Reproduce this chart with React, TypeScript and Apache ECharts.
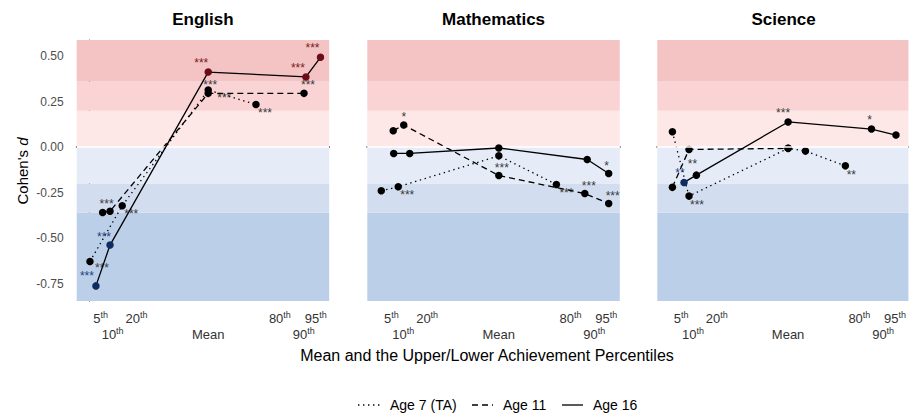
import React, { useEffect, useRef } from 'react';
import * as echarts from 'echarts';

const FONT = '"Liberation Sans", Arial, Helvetica, sans-serif';

// ---------- data ----------
const subjects = ['English', 'Mathematics', 'Science'];
const ageGroups = ['Age 7 (TA)', 'Age 11', 'Age 16'];
const tickPercentiles = [5, 10, 20, 50, 80, 90, 95];
const tickLabels = ['5th', '10th', '20th', 'Mean', '80th', '90th', '95th'];
const upperRowTicks = [5, 20, 80, 95];
const lowerRowTicks = [10, 50, 90];
const yTickValues = [-0.75, -0.5, -0.25, 0, 0.25, 0.5];
const bandEdges = [-0.845, -0.36, -0.2, 0, 0.2, 0.36, 0.588];

// English
const engAge7X = [0.5, 14.0, 50, 70.0];
const engAge7Y = [-0.628, -0.322, 0.313, 0.234];
const engAge7Sig = ['***', '***', '***', '***'];
const engAge11X = [5.8, 8.9, 50, 90.1];
const engAge11Y = [-0.359, -0.352, 0.295, 0.295];
const engAge11Sig = ['***', '', '***', '***'];
const engAge16X = [3.0, 8.9, 50, 90.9, 97.0];
const engAge16Y = [-0.762, -0.538, 0.412, 0.385, 0.493];
const engAge16Sig = ['***', '***', '***', '***', '***'];
const engAge16Tone = ['neg', 'neg', 'pos', 'pos', 'pos'];

// Mathematics
const mathAge7X = [0.8, 7.9, 50, 74.1];
const mathAge7Y = [-0.24, -0.218, -0.048, -0.205];
const mathAge7Sig = ['', '***', '***', '***'];
const mathAge11X = [5.8, 10.2, 50, 86.0, 96.0];
const mathAge11Y = [0.09, 0.121, -0.156, -0.255, -0.31];
const mathAge11Sig = ['', '*', '', '***', '***'];
const mathAge16X = [6.0, 12.7, 50, 87.0, 96.0];
const mathAge16Y = [-0.035, -0.035, -0.005, -0.068, -0.145];
const mathAge16Sig = ['', '', '', '', '*'];

// Science
const sciAge7X = [1.3, 8.3, 50, 57.3, 74.1];
const sciAge7Y = [0.084, -0.269, -0.007, -0.022, -0.103];
const sciAge7Sig = ['', '***', '', '', '**'];
const sciAge11X = [1.3, 8.3, 50];
const sciAge11Y = [-0.221, -0.013, -0.007];
const sciAge11Sig = ['', '', ''];
const sciAge16X = [6.2, 11.4, 50, 85.1, 95.4];
const sciAge16Y = [-0.194, -0.154, 0.138, 0.099, 0.066];
const sciAge16Sig = ['**', '**', '***', '*', ''];
const sciAge16Tone = ['neg', '', '', '', ''];

// ---------- styling (label offsets in px) ----------
const engAge7Off = [[12, 7], [9, 8], [16, 8], [9, 9]];
const engAge11Off = [[4, -8], [0, 0], [2, -8], [4, -8]];
const engAge16Off = [[-9, -10], [-6, -8], [-7, -9], [-8, -9], [-8, -9]];
const mathAge7Off = [[0, 0], [9, 8], [3, 12], [10, 9]];
const mathAge11Off = [[0, 0], [0, -8], [0, 0], [4, -8], [4, -8]];
const mathAge16Off = [[0, 0], [0, 0], [0, 0], [0, 0], [-2, -8]];
const sciAge7Off = [[0, 0], [8, 9], [0, 0], [0, 0], [6, 9]];
const sciAge11Off = [[0, 0], [0, 0], [0, 0]];
const sciAge16Off = [[-4, -9], [-4, -11], [-5, -9], [-2, -9], [0, 0]];

const bandColors = ['#bccfe9', '#d2ddef', '#e6ecf7', '#fde7e7', '#fad3d5', '#f4c3c3'];
const toneColor: Record<string, string> = { neg: '#0d2d62', pos: '#6b0c16', '': '#000000' };
const toneLabel: Record<string, string> = { neg: '#1d3f7a', pos: '#7a1a22', '': '#3a3a3a' };
const dashTypes: any[] = [[1.4, 3.6], [6, 4], 'solid'];

const GRID_LEFTS = [76.7, 367.3, 657.3];
const GRID_W = 252.5;
const GRID_TOP = 40;
const GRID_H = 261;
const X_MIN = -5.05;
const X_MAX = 100.65;
const Y_MIN = -0.845;
const Y_MAX = 0.588;

type Line = {
  grid: number;
  age: number;
  xs: number[];
  ys: number[];
  sig: string[];
  off: number[][];
  tone?: string[];
};

const lines: Line[] = [
  { grid: 0, age: 0, xs: engAge7X, ys: engAge7Y, sig: engAge7Sig, off: engAge7Off },
  { grid: 0, age: 1, xs: engAge11X, ys: engAge11Y, sig: engAge11Sig, off: engAge11Off },
  { grid: 0, age: 2, xs: engAge16X, ys: engAge16Y, sig: engAge16Sig, off: engAge16Off, tone: engAge16Tone },
  { grid: 1, age: 0, xs: mathAge7X, ys: mathAge7Y, sig: mathAge7Sig, off: mathAge7Off },
  { grid: 1, age: 1, xs: mathAge11X, ys: mathAge11Y, sig: mathAge11Sig, off: mathAge11Off },
  { grid: 1, age: 2, xs: mathAge16X, ys: mathAge16Y, sig: mathAge16Sig, off: mathAge16Off },
  { grid: 2, age: 0, xs: sciAge7X, ys: sciAge7Y, sig: sciAge7Sig, off: sciAge7Off },
  { grid: 2, age: 1, xs: sciAge11X, ys: sciAge11Y, sig: sciAge11Sig, off: sciAge11Off },
  { grid: 2, age: 2, xs: sciAge16X, ys: sciAge16Y, sig: sciAge16Sig, off: sciAge16Off, tone: sciAge16Tone },
];

const tickFormatter = (v: number) => {
  const i = tickPercentiles.indexOf(v);
  const lab = i >= 0 ? tickLabels[i] : '';
  if (lab.endsWith('th')) return '{n|' + lab.slice(0, -2) + '}{s|th}';
  return '{n|' + lab + '}';
};

const tickRich = {
  n: { fontFamily: FONT, fontSize: 13, color: '#333333', lineHeight: 15, verticalAlign: 'bottom' },
  s: { fontFamily: FONT, fontSize: 9, color: '#333333', lineHeight: 15, verticalAlign: 'top' },
};

function buildOption(): any {
  const grids = GRID_LEFTS.map((l) => ({ left: l, top: GRID_TOP, width: GRID_W, height: GRID_H, containLabel: false }));

  const mainX = GRID_LEFTS.map((_, g) => ({
    type: 'value',
    gridIndex: g,
    position: 'bottom',
    min: X_MIN,
    max: X_MAX,
    splitLine: { show: false },
    axisLine: { show: true, lineStyle: { color: '#333333', width: 1.8 } },
    axisTick: { show: true, customValues: tickPercentiles, length: 4, lineStyle: { color: '#333333', width: 1 } },
    axisLabel: {
      show: true,
      customValues: upperRowTicks,
      hideOverlap: false,
      showMinLabel: true,
      showMaxLabel: true,
      margin: 9,
      fontFamily: FONT,
      fontSize: 13,
      color: '#333333',
      formatter: tickFormatter,
      rich: tickRich,
    },
  }));
  const lowerX = GRID_LEFTS.map((_, g) => ({
    type: 'value',
    gridIndex: g,
    position: 'bottom',
    min: X_MIN,
    max: X_MAX,
    splitLine: { show: false },
    axisLine: { show: false },
    axisTick: { show: false },
    axisLabel: {
      show: true,
      customValues: lowerRowTicks,
      hideOverlap: false,
      showMinLabel: true,
      showMaxLabel: true,
      margin: 25,
      fontFamily: FONT,
      fontSize: 13,
      color: '#333333',
      formatter: tickFormatter,
      rich: tickRich,
    },
  }));

  const yAxes = GRID_LEFTS.map((_, g) => ({
    type: 'value',
    gridIndex: g,
    min: Y_MIN,
    max: Y_MAX,
    splitLine: { show: false },
    axisLine: { show: g === 0, lineStyle: { color: '#333333', width: 1.2 } },
    axisTick: { show: g === 0, customValues: yTickValues, length: 4, lineStyle: { color: '#333333', width: 1 } },
    axisLabel: {
      show: g === 0,
      customValues: yTickValues,
      margin: 13,
      fontFamily: FONT,
      fontSize: 12,
      color: '#4d4d4d',
      formatter: (v: number) => v.toFixed(2),
    },
  }));

  const series: any[] = [];
  GRID_LEFTS.forEach((_, g) => {
    const areas = bandColors.map((c, i) => [
      { yAxis: bandEdges[i], itemStyle: { color: c, opacity: 1 } },
      { yAxis: bandEdges[i + 1] },
    ]);
    series.push({
      type: 'line',
      xAxisIndex: g,
      yAxisIndex: g,
      data: [],
      silent: true,
      z: 1,
      markArea: { silent: true, data: areas, label: { show: false } },
      markLine: {
        silent: true,
        symbol: ['none', 'none'],
        label: { show: false },
        lineStyle: { color: '#ffffff', width: 1.5, type: 'solid', opacity: 1 },
        data: [{ yAxis: 0 }],
      },
    });
  });

  lines.forEach((ln) => {
    series.push({
      type: 'line',
      name: ageGroups[ln.age],
      xAxisIndex: ln.grid,
      yAxisIndex: ln.grid,
      z: 3 + ln.age,
      symbol: 'circle',
      symbolSize: 7.5,
      showSymbol: true,
      silent: true,
      clip: false,
      lineStyle: { color: '#000000', width: 1.3, type: dashTypes[ln.age] },
      itemStyle: { color: '#000000' },
      emphasis: { disabled: true },
      label: { show: false, position: 'inside', fontFamily: FONT, fontSize: 12, color: '#3a3a3a' },
      data: ln.xs.map((x, i) => {
        const t = ln.tone ? ln.tone[i] : '';
        return {
          value: [x, ln.ys[i]],
          itemStyle: { color: toneColor[t] },
          label: {
            show: ln.sig[i] !== '',
            formatter: ln.sig[i] || ' ',
            offset: ln.off[i],
            color: toneLabel[t],
          },
        };
      }),
    });
  });

  const graphic: any[] = [];
  subjects.forEach((s, g) => {
    graphic.push({
      type: 'text',
      x: GRID_LEFTS[g] + GRID_W / 2,
      y: 19,
      silent: true,
      style: { text: s, fontFamily: FONT, fontSize: 17, fontWeight: 'bold', fill: '#000', align: 'center', verticalAlign: 'middle' },
    });
  });
  graphic.push({
    type: 'text',
    x: 22,
    y: 171,
    rotation: Math.PI / 2,
    silent: true,
    style: {
      text: "{a|Cohen's }{b|d}",
      align: 'center',
      verticalAlign: 'middle',
      rich: {
        a: { fontFamily: FONT, fontSize: 15, fill: '#000' },
        b: { fontFamily: FONT, fontSize: 15, fontStyle: 'italic', fill: '#000' },
      },
    },
  });
  graphic.push({
    type: 'text',
    x: 487,
    y: 355,
    silent: true,
    style: { text: 'Mean and the Upper/Lower Achievement Percentiles', fontFamily: FONT, fontSize: 16, fill: '#000', align: 'center', verticalAlign: 'middle' },
  });
  // legend
  const legY = 405;
  const legItems = [
    { x1: 358, x2: 381, tx: 390, dash: [1.4, 3.6] },
    { x1: 472, x2: 493, tx: 503, dash: [6, 4] },
    { x1: 562, x2: 583, tx: 593, dash: null },
  ];
  legItems.forEach((it, i) => {
    graphic.push({
      type: 'line',
      silent: true,
      shape: { x1: it.x1, y1: legY, x2: it.x2, y2: legY },
      style: { stroke: '#000', lineWidth: 1.3, lineDash: it.dash || undefined },
    });
    graphic.push({
      type: 'text',
      x: it.tx,
      y: legY,
      silent: true,
      style: { text: ageGroups[i], fontFamily: FONT, fontSize: 14, fill: '#000', align: 'left', verticalAlign: 'middle' },
    });
  });

  return {
    animation: false,
    backgroundColor: '#ffffff',
    grid: grids,
    xAxis: [...mainX, ...lowerX],
    yAxis: yAxes,
    series,
    graphic,
  };
}

export default function App() {
  const ref = useRef<HTMLDivElement>(null);
  useEffect(() => {
    document.body.style.margin = '0';
    if (!ref.current) return;
    const chart = echarts.init(ref.current, undefined, { renderer: 'svg' });
    chart.setOption(buildOption());
    return () => chart.dispose();
  }, []);
  return <div ref={ref} style={{ width: 909, height: 418, position: 'absolute', left: 0, top: 0 }} />;
}
